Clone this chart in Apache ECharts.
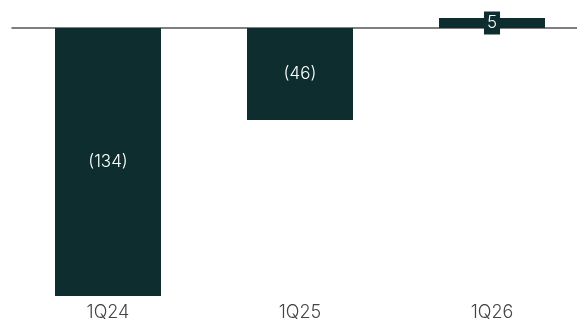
<!DOCTYPE html>
<html><head><meta charset="utf-8">
<script src="https://cdn.jsdelivr.net/npm/echarts@6/dist/echarts.min.js"></script>
<style>html,body{margin:0;padding:0;background:#fff;overflow:hidden}#c{width:577px;height:321px}</style>
</head><body><div id="c"></div>
<script>
const categories = ['1Q24', '1Q25', '1Q26'];
const values = [-134, -46, 5];
const barColor = '#0e2d2e';
const chart = echarts.init(document.getElementById('c'));
chart.setOption({
  animation: false,
  grid: { left: 12, right: -11, top: 18, bottom: 25, outerBoundsMode: 'none', containLabel: false },
  xAxis: [
    { type: 'category', data: categories, axisLine: { onZero: true, lineStyle: { color: '#555', width: 1.5 } },
      axisTick: { show: false }, axisLabel: { show: false } },
    { type: 'category', data: categories, position: 'bottom', offset: 0,
      axisLine: { show: false, onZero: false }, axisTick: { show: false },
      axisLabel: { color: '#444', fontSize: 18, fontFamily: 'Inter', fontWeight: 300, margin: 8 } }
  ],
  yAxis: { type: 'value', min: -134, max: 5, show: false, splitLine: { show: false } },
  series: [{
    type: 'bar', data: values, barWidth: 106, xAxisIndex: 0,
    itemStyle: { color: barColor },
    label: {
      show: true, position: 'inside', color: '#fff', fontSize: 17, lineHeight: 18, fontFamily: 'Inter', fontWeight: 300,
      formatter: p => p.value < 0 ? '(' + Math.abs(p.value) + ')' : String(p.value),
      backgroundColor: barColor, padding: [3, 3, 2, 3]
    }
  }]
});
</script></body></html>
